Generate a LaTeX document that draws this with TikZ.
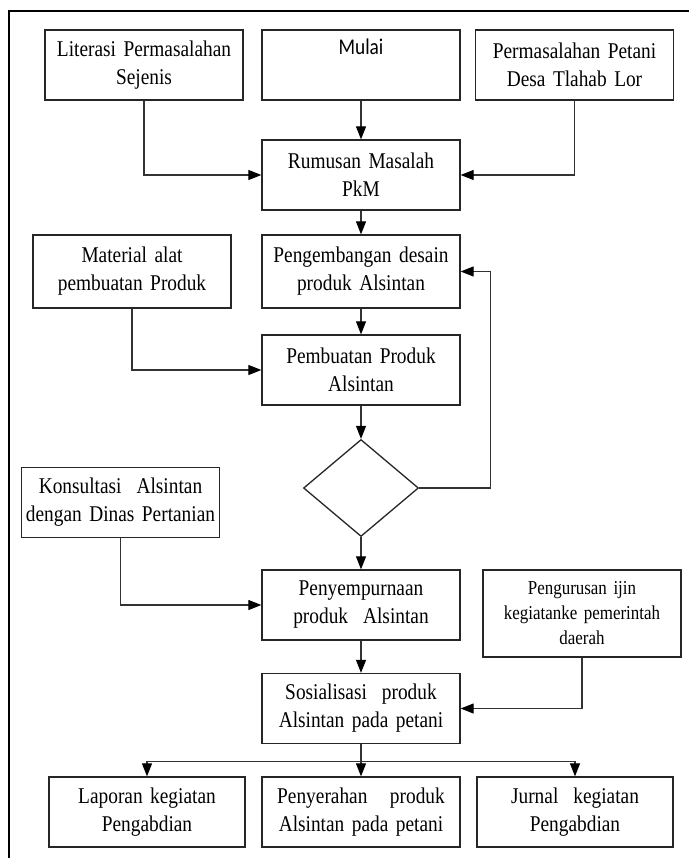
\documentclass[tikz,border=0pt]{standalone}
\usepackage{fontspec}
\setmainfont{Liberation Serif}[FakeStretch=0.86]
\newfontfamily\calibri{Carlito}[FakeStretch=0.86]
\usepackage{tikz}
\usetikzlibrary{positioning, shapes.geometric, arrows.meta}

\begin{document}
\begin{tikzpicture}[x=1pt, y=1pt, node distance=100pt, on grid,
	kotak/.style={draw=black!85, line width=1.3pt, minimum width=198pt, minimum height=70pt, text width=192pt, align=center, inner sep=0pt, font=\fontsize{22.5}{28}\selectfont},
	keputusan/.style={diamond, draw=black!85, line width=1.3pt, minimum width=115pt, minimum height=97pt, inner sep=0pt},
	panah/.style={draw=black!80, line width=1.1pt, -{Triangle[length=13pt, width=10pt, fill=black, color=black]}},
	garis/.style={draw=black!80, line width=1.1pt}]
	\useasboundingbox (0,0) rectangle (689,-858);
	\draw[line width=2pt] (9,-858) -- (9,-11) -- (689,-11);
	\node[kotak, font=\calibri\fontsize{22.5}{28}\selectfont] (mulai) at (361,-65) {Mulai\\\strut};
	\node[kotak] (literasi) [left=217pt of mulai] {Literasi Permasalahan\\Sejenis};
	\node[kotak] (petani) [right=213.5pt of mulai] {Permasalahan Petani\\Desa Tlahab Lor};
	\node[kotak] (rumusan) [below=110pt of mulai] {Rumusan Masalah\\PkM};
	\node[kotak, minimum height=73pt] (desain) [below=96.5pt of rumusan] {Pengembangan desain\\produk Alsintan};
	\node[kotak, minimum height=73pt] (material) [left=229pt of desain] {Material alat\\pembuatan Produk};
	\node[kotak] (pembuatan) [below=98.5pt of desain] {Pembuatan Produk\\Alsintan};
	\node[keputusan] (cek) [below=118pt of pembuatan] {};
	\node[kotak] (konsultasi) [below left=14.5pt and 240.5pt of cek] {Konsultasi\ \ Alsintan\\dengan Dinas Pertanian};
	\node[kotak] (penyempurnaan) [below=117pt of cek] {Penyempurnaan\\produk\ \ Alsintan};
	\node[kotak, minimum height=87pt, font=\fontsize{19.7}{25}\selectfont] (ijin) [below right=8.5pt and 221pt of penyempurnaan] {Pengurusan ijin\\kegiatanke pemerintah\\daerah};
	\node[kotak] (sosialisasi) [below=103.5pt of penyempurnaan] {Sosialisasi\ \ produk\\Alsintan pada petani};
	\node[kotak] (penyerahan) [below=103.5pt of sosialisasi] {Penyerahan\ \ \ produk\\Alsintan pada petani};
	\node[kotak, minimum width=196pt] (laporan) [left=214pt of penyerahan] {Laporan kegiatan\\Pengabdian};
	\node[kotak, minimum width=196pt] (jurnal) [right=214pt of penyerahan] {Jurnal\ \ kegiatan\\Pengabdian};
	\node[coordinate, right=71pt of cek.east] (balik) {};
	\node[coordinate, below=17pt of sosialisasi.south] (cabang) {};
	\draw[panah] (mulai) -- (rumusan);
	\draw[panah] (literasi) |- (rumusan);
	\draw[panah] (petani) |- (rumusan);
	\draw[panah] (rumusan) -- (desain);
	\draw[panah] (desain) -- (pembuatan);
	\draw[panah] (material) |- (pembuatan);
	\draw[panah] (pembuatan) -- (cek);
	\draw[panah] (cek) -- (balik) |- (desain);
	\draw[panah] (cek) -- (penyempurnaan);
	\draw[panah] (konsultasi) |- (penyempurnaan);
	\draw[panah] (penyempurnaan) -- (sosialisasi);
	\draw[panah] (ijin) |- (sosialisasi);
	\draw[garis] (sosialisasi) -- (cabang);
	\draw[panah] (cabang) -| (laporan);
	\draw[panah] (cabang) -- (penyerahan);
	\draw[panah] (cabang) -| (jurnal);
\end{tikzpicture}
\end{document}
